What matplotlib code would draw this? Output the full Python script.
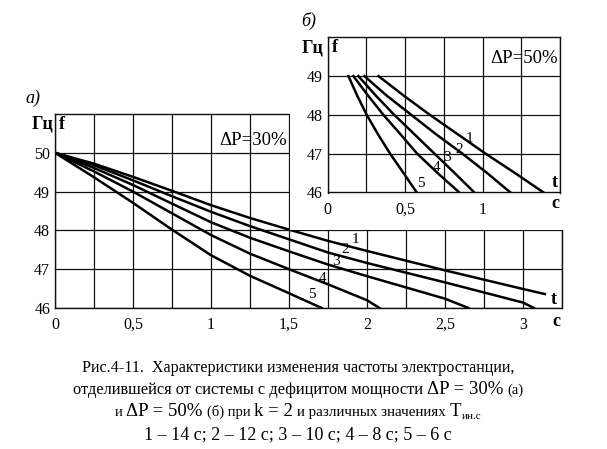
import matplotlib

matplotlib.use("Agg")
import matplotlib.pyplot as plt
import numpy as np
from matplotlib.patches import Rectangle

plt.rcParams.update({"font.family": ["Liberation Serif", "DejaVu Serif"], "font.size": 11})

W, H = 607, 449
INK = "#111111"

# --- а) dP = 30 %  (t, c  ->  f, Hz)
a1_t = [0, 0.25, 0.5, 0.75, 1.0, 1.25, 1.5, 1.75, 2.0, 2.25, 2.5, 2.75, 3.0, 3.14]
a1_f = [50, 49.72, 49.38, 49.02, 48.65, 48.32, 48.02, 47.73, 47.47, 47.22, 46.97, 46.73, 46.49, 46.36]
a2_t = [0, 0.25, 0.5, 0.75, 1.0, 1.25, 1.5, 1.75, 2.0, 2.25, 2.5, 2.75, 3.0, 3.07]
a2_f = [50, 49.68, 49.29, 48.88, 48.48, 48.11, 47.77, 47.43, 47.16, 46.91, 46.66, 46.40, 46.14, 46.0]
a3_t = [0, 0.25, 0.5, 0.75, 1.0, 1.25, 1.5, 1.75, 2.0, 2.25, 2.5, 2.65]
a3_f = [50, 49.61, 49.17, 48.69, 48.21, 47.81, 47.46, 47.12, 46.82, 46.53, 46.24, 46.0]
a4_t = [0, 0.25, 0.5, 0.75, 1.0, 1.25, 1.5, 1.75, 2.0, 2.08]
a4_f = [50, 49.52, 49.0, 48.44, 47.88, 47.40, 47.00, 46.61, 46.20, 46.0]
a5_t = [0, 0.25, 0.5, 0.75, 1.0, 1.25, 1.5, 1.71]
a5_f = [50, 49.37, 48.71, 48.02, 47.36, 46.83, 46.38, 46.0]

# --- б) dP = 50 %
b_f = [49, 48.5, 48, 47.5, 47, 46.5, 46]
b1_t = [0.328, 0.49, 0.66, 0.84, 1.02, 1.21, 1.394]
b2_t = [0.237, 0.38, 0.54, 0.70, 0.87, 1.03, 1.18]
b3_t = [0.198, 0.31, 0.43, 0.56, 0.69, 0.82, 0.947]
b4_t = [0.166, 0.26, 0.36, 0.47, 0.578, 0.71, 0.85]
b5_t = [0.134, 0.19, 0.252, 0.325, 0.403, 0.49, 0.575]

curve_names = ["1", "2", "3", "4", "5"]
a_label_pos = [(1.923, 47.76), (1.859, 47.50), (1.80, 47.20), (1.716, 46.77), (1.645, 46.34)]
b_label_pos = [(0.913, 47.39), (0.848, 47.10), (0.772, 46.90), (0.701, 46.64), (0.60, 46.23)]

a_xticks = [0, 0.5, 1, 1.5, 2, 2.5, 3]
a_xlabels = ["0", "0,5", "1", "1,5", "2", "2,5", "3"]
b_xticks = [0, 0.5, 1]
b_xlabels = ["0", "0,5", "1"]


def px(x, y):
    return x / W, 1 - y / H


def setup(ax, xmax, ymin, ymax, xticks, xlabels):
    ax.set_xlim(0, xmax)
    ax.set_ylim(ymin, ymax)
    ax.set_xticks(xticks, xlabels)
    ax.set_xticks(np.arange(0, xmax + 1e-9, 0.25), minor=True)
    ax.set_yticks(range(ymin, ymax))
    ax.tick_params(which="both", length=0)
    ax.tick_params(axis="x", pad=6.5, labelsize=11.5)
    ax.tick_params(axis="y", pad=3.5, labelsize=11.5)
    ax.grid(True, which="both", axis="x", color=INK, lw=0.9)
    ax.grid(True, which="major", axis="y", color=INK, lw=0.9)
    ax.set_axisbelow(True)
    for s in ax.spines.values():
        s.set_color(INK)
        s.set_linewidth(1.0)


fig = plt.figure(figsize=(W / 100, H / 100), dpi=100)
fig.patch.set_facecolor("white")

ax_a = fig.add_axes([55 / W, 1 - 308 / H, 507 / W, 194 / H])
setup(ax_a, 3.25, 46, 51, a_xticks, a_xlabels)
for t, f in [(a1_t, a1_f), (a2_t, a2_f), (a3_t, a3_f), (a4_t, a4_f), (a5_t, a5_f)]:
    ax_a.plot(t, f, color="black", lw=1.8, solid_joinstyle="round", zorder=2)
for name, (x, y) in zip(curve_names, a_label_pos):
    ax_a.text(x, y, name, ha="center", va="center", fontsize=11)
ax_a.text(1.487, 50.32, "ΔP=30%", ha="right", va="center", fontsize=13.5)
ax_a.text(3.2, 46.21, "t", ha="center", va="center", fontsize=13, weight="bold")
# the inset covers the upper right corner of chart а)
ax_a.add_patch(Rectangle((1.504, 48.015), 3, 8, facecolor="white", edgecolor="none",
                         zorder=2.6, clip_on=False))

ax_b = fig.add_axes([327.7 / W, 1 - 192.5 / H, 232.3 / W, 155.2 / H])
setup(ax_b, 1.5, 46, 50, b_xticks, b_xlabels)
for t in [b1_t, b2_t, b3_t, b4_t, b5_t]:
    ax_b.plot(t, b_f, color="black", lw=1.8, solid_joinstyle="round", zorder=2)
for name, (x, y) in zip(curve_names, b_label_pos):
    ax_b.text(x, y, name, ha="center", va="center", fontsize=11)
ax_b.text(1.487, 49.45, "ΔP=50%", ha="right", va="center", fontsize=13.5)
ax_b.text(1.463, 46.25, "t", ha="center", va="center", fontsize=13, weight="bold")

# axis names and panel letters
for (x, y), s, ha in [((53.5, 124.5), "Гц", "right"), ((59, 124.5), "f", "left"),
                      ((323.5, 47.5), "Гц", "right"), ((331.5, 47.5), "f", "left")]:
    fig.text(*px(x, y), s, ha=ha, va="center", fontsize=13, weight="bold")
fig.text(*px(556.5, 321), "c", ha="center", va="center", fontsize=13, weight="bold")
fig.text(*px(555, 204), "c", ha="center", va="center", fontsize=13, weight="bold")
fig.text(*px(33, 98), "а)", ha="center", va="center", fontsize=13, style="italic")
fig.text(*px(309, 21), "б)", ha="center", va="center", fontsize=13, style="italic")

# caption, several font sizes on one line
renderer = fig.canvas.get_renderer()


def caption_line(y_base, parts, xc=298):
    items = []
    for s, size, gap, dy in parts:
        t = fig.text(0, 0, s, fontsize=size, va="baseline", ha="left")
        items.append((t, t.get_window_extent(renderer).width, gap, dy))
    total = sum(w + g for _, w, g, _ in items)
    x = xc - total / 2
    for t, w, g, dy in items:
        x += g
        t.set_position(px(x, y_base + dy))
        x += w


caption_line(372, [("Рис.4-11.  Характеристики изменения частоты электростанции,", 11.6, 0, 0)])
caption_line(394, [("отделившейся от системы с дефицитом мощности", 11.8, 0, 0),
                   ("ΔP = 30%", 13.5, 4, 0), ("(а)", 10.5, 4, 0)])
caption_line(416, [("и", 10.5, 0, 0), ("ΔP = 50%", 13.5, 4, 0), ("(б) при", 10.5, 4, 0),
                   ("k = 2", 13.5, 4, 0), ("и различных значениях", 10.8, 4, 0),
                   ("T", 13.5, 4, 0), ("ин.с", 8, 0, 3)])
caption_line(439, [("1 – 14 с; 2 – 12 с; 3 – 10 с; 4 – 8 с; 5 – 6 с", 13, 0, 0)])

fig.savefig("out.png", dpi=100)
plt.close(fig)
